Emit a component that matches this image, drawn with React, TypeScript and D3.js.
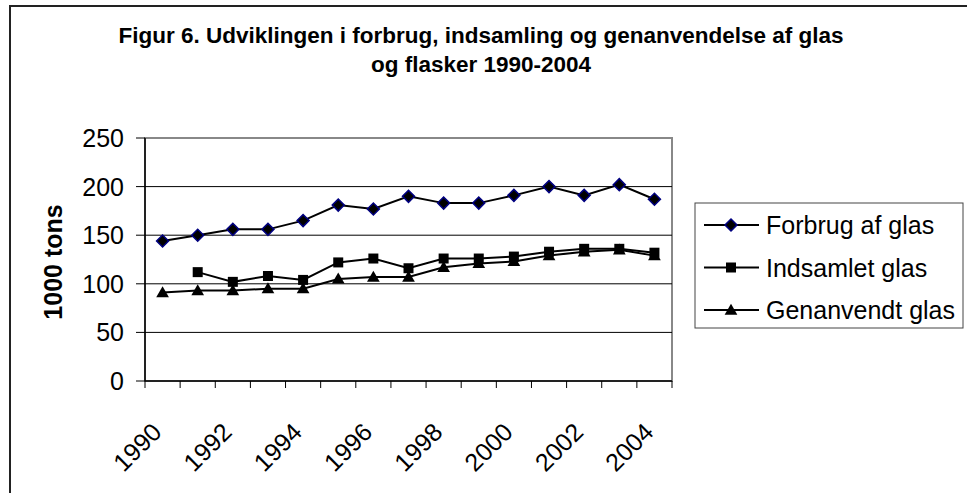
import React from 'react';
import { scaleBand, scaleLinear, line, symbol, symbolSquare, symbolTriangle } from 'd3';

// data (1000 tons)
const years = ['1990', '1991', '1992', '1993', '1994', '1995', '1996', '1997', '1998', '1999', '2000', '2001', '2002', '2003', '2004'];
const forbrug = [144, 150, 156, 156, 165, 181, 177, 190, 183, 183, 191, 200, 191, 202, 187];
const indsamlet = [null, 112, 102, 108, 104, 122, 126, 116, 126, 126, 128, 133, 136, 136, 132];
const genanvendt = [91, 93, 93, 95, 95, 105, 107, 107, 117, 121, 123, 129, 133, 135, 129];
const yTicks = [0, 50, 100, 150, 200, 250];
const xLabels = ['1990', '1992', '1994', '1996', '1998', '2000', '2002', '2004'];

const titleLines = [
  'Figur 6. Udviklingen i forbrug, indsamling og genanvendelse af glas',
  'og flasker 1990-2004',
];
const yTitle = '1000 tons';

const series = [
  { name: 'Forbrug af glas', values: forbrug, marker: 'diamond' },
  { name: 'Indsamlet glas', values: indsamlet, marker: 'square' },
  { name: 'Genanvendt glas', values: genanvendt, marker: 'triangle' },
];

const W = 967;
const H = 493;
const FONT = '"Liberation Sans", Arial, sans-serif';
const plot = { left: 145, right: 672, top: 138, bottom: 381 };

// marker paths
const diamondPath = symbol(symbolSquare, 72)();
const squarePath = symbol(symbolSquare, 100)();
const trianglePath = symbol(symbolTriangle, 70)();

function Marker({ kind, x, y }) {
  if (kind === 'diamond') {
    return <path d={ diamondPath } transform={ `translate(${x},${y}) rotate(45)` } fill="#000" stroke="#000080" strokeWidth={ 1.5 } />;
  }
  if (kind === 'square') {
    return <path d={ squarePath } transform={ `translate(${x},${y})` } fill="#000" />;
  }
  return <path d={ trianglePath } transform={ `translate(${x},${y + 1})` } fill="#000" />;
}

export default function App() {
  const x = scaleBand().domain(years).range([plot.left, plot.right]).padding(0);
  const y = scaleLinear().domain([0, 250]).range([plot.bottom, plot.top]);
  const cx = d => x(d) + x.bandwidth() / 2;

  const path = line()
    .defined(d => d[1] != null)
    .x(d => cx(d[0]))
    .y(d => y(d[1]));

  // tick positions at category boundaries
  const xTickPos = years.map(d => x(d)).concat([plot.right]);

  return (
    <svg width={ W } height={ H } style={{ position: 'absolute', left: 0, top: 0, background: '#fff' }} fontFamily={ FONT }>
      <rect x={ 10 } y={ 6 } width={ W + 20 } height={ H + 20 } fill="#fff" stroke="#222" strokeWidth={ 2 } />

      {/* title */}
      {
        titleLines.map((t, i) =>
          <text key={ i } x={ 481 } y={ 43 + i * 29 } textAnchor="middle" fontSize={ 22.5 } fontWeight="bold">{ t }</text>
        )
      }

      {/* plot area border (gray) */}
      <rect x={ plot.left } y={ plot.top } width={ plot.right - plot.left } height={ plot.bottom - plot.top } fill="none" stroke="#888" strokeWidth={ 2 } />

      {/* gridlines */}
      {
        yTicks.filter(t => t > 0 && t < 250).map(t =>
          <line key={ t } x1={ plot.left } x2={ plot.right } y1={ y(t) } y2={ y(t) } stroke="#000" strokeWidth={ 1 } />
        )
      }

      {/* y axis */}
      <line x1={ plot.left } x2={ plot.left } y1={ plot.top } y2={ plot.bottom } stroke="#000" strokeWidth={ 1.5 } />
      {
        yTicks.map(t =>
          <g key={ t }>
            <line x1={ plot.left - 9 } x2={ plot.left } y1={ y(t) } y2={ y(t) } stroke="#000" strokeWidth={ 1 } />
            <text x={ 124 } y={ y(t) } dy="0.36em" textAnchor="end" fontSize={ 25 }>{ t }</text>
          </g>
        )
      }
      <text transform={ `translate(62,262) rotate(-90)` } textAnchor="middle" fontSize={ 25 } fontWeight="bold">{ yTitle }</text>

      {/* x axis */}
      <line x1={ plot.left } x2={ plot.right } y1={ plot.bottom } y2={ plot.bottom } stroke="#000" strokeWidth={ 1.5 } />
      {
        xTickPos.map((p, i) =>
          <line key={ i } x1={ p } x2={ p } y1={ plot.bottom } y2={ plot.bottom + 7 } stroke="#000" strokeWidth={ 1 } />
        )
      }
      {
        xLabels.map(d =>
          <text key={ d } transform={ `translate(${cx(d) - 12},421) rotate(-45)` } dy="0.71em" textAnchor="end" fontSize={ 25 }>{ d }</text>
        )
      }

      {/* series */}
      {
        series.map(s => {
          const pts = years.map((yr, i) => [yr, s.values[i]]);
          return (
            <g key={ s.name }>
              <path d={ path(pts) } fill="none" stroke="#000" strokeWidth={ 2 } />
              {
                pts.filter(p => p[1] != null).map(p =>
                  <Marker key={ p[0] } kind={ s.marker } x={ cx(p[0]) } y={ y(p[1]) } />
                )
              }
            </g>
          );
        })
      }

      {/* legend */}
      <rect x={ 695 } y={ 203 } width={ 268 } height={ 125 } fill="#fff" stroke="#444" strokeWidth={ 1 } />
      {
        series.map((s, i) => {
          const ly = 225 + i * 42.5;
          return (
            <g key={ s.name }>
              <line x1={ 704 } x2={ 759 } y1={ ly } y2={ ly } stroke="#000" strokeWidth={ 2 } />
              <Marker kind={ s.marker } x={ 731 } y={ ly } />
              <text x={ 766 } y={ ly } dy="0.36em" fontSize={ 25 }>{ s.name }</text>
            </g>
          );
        })
      }
    </svg>
  );
}
